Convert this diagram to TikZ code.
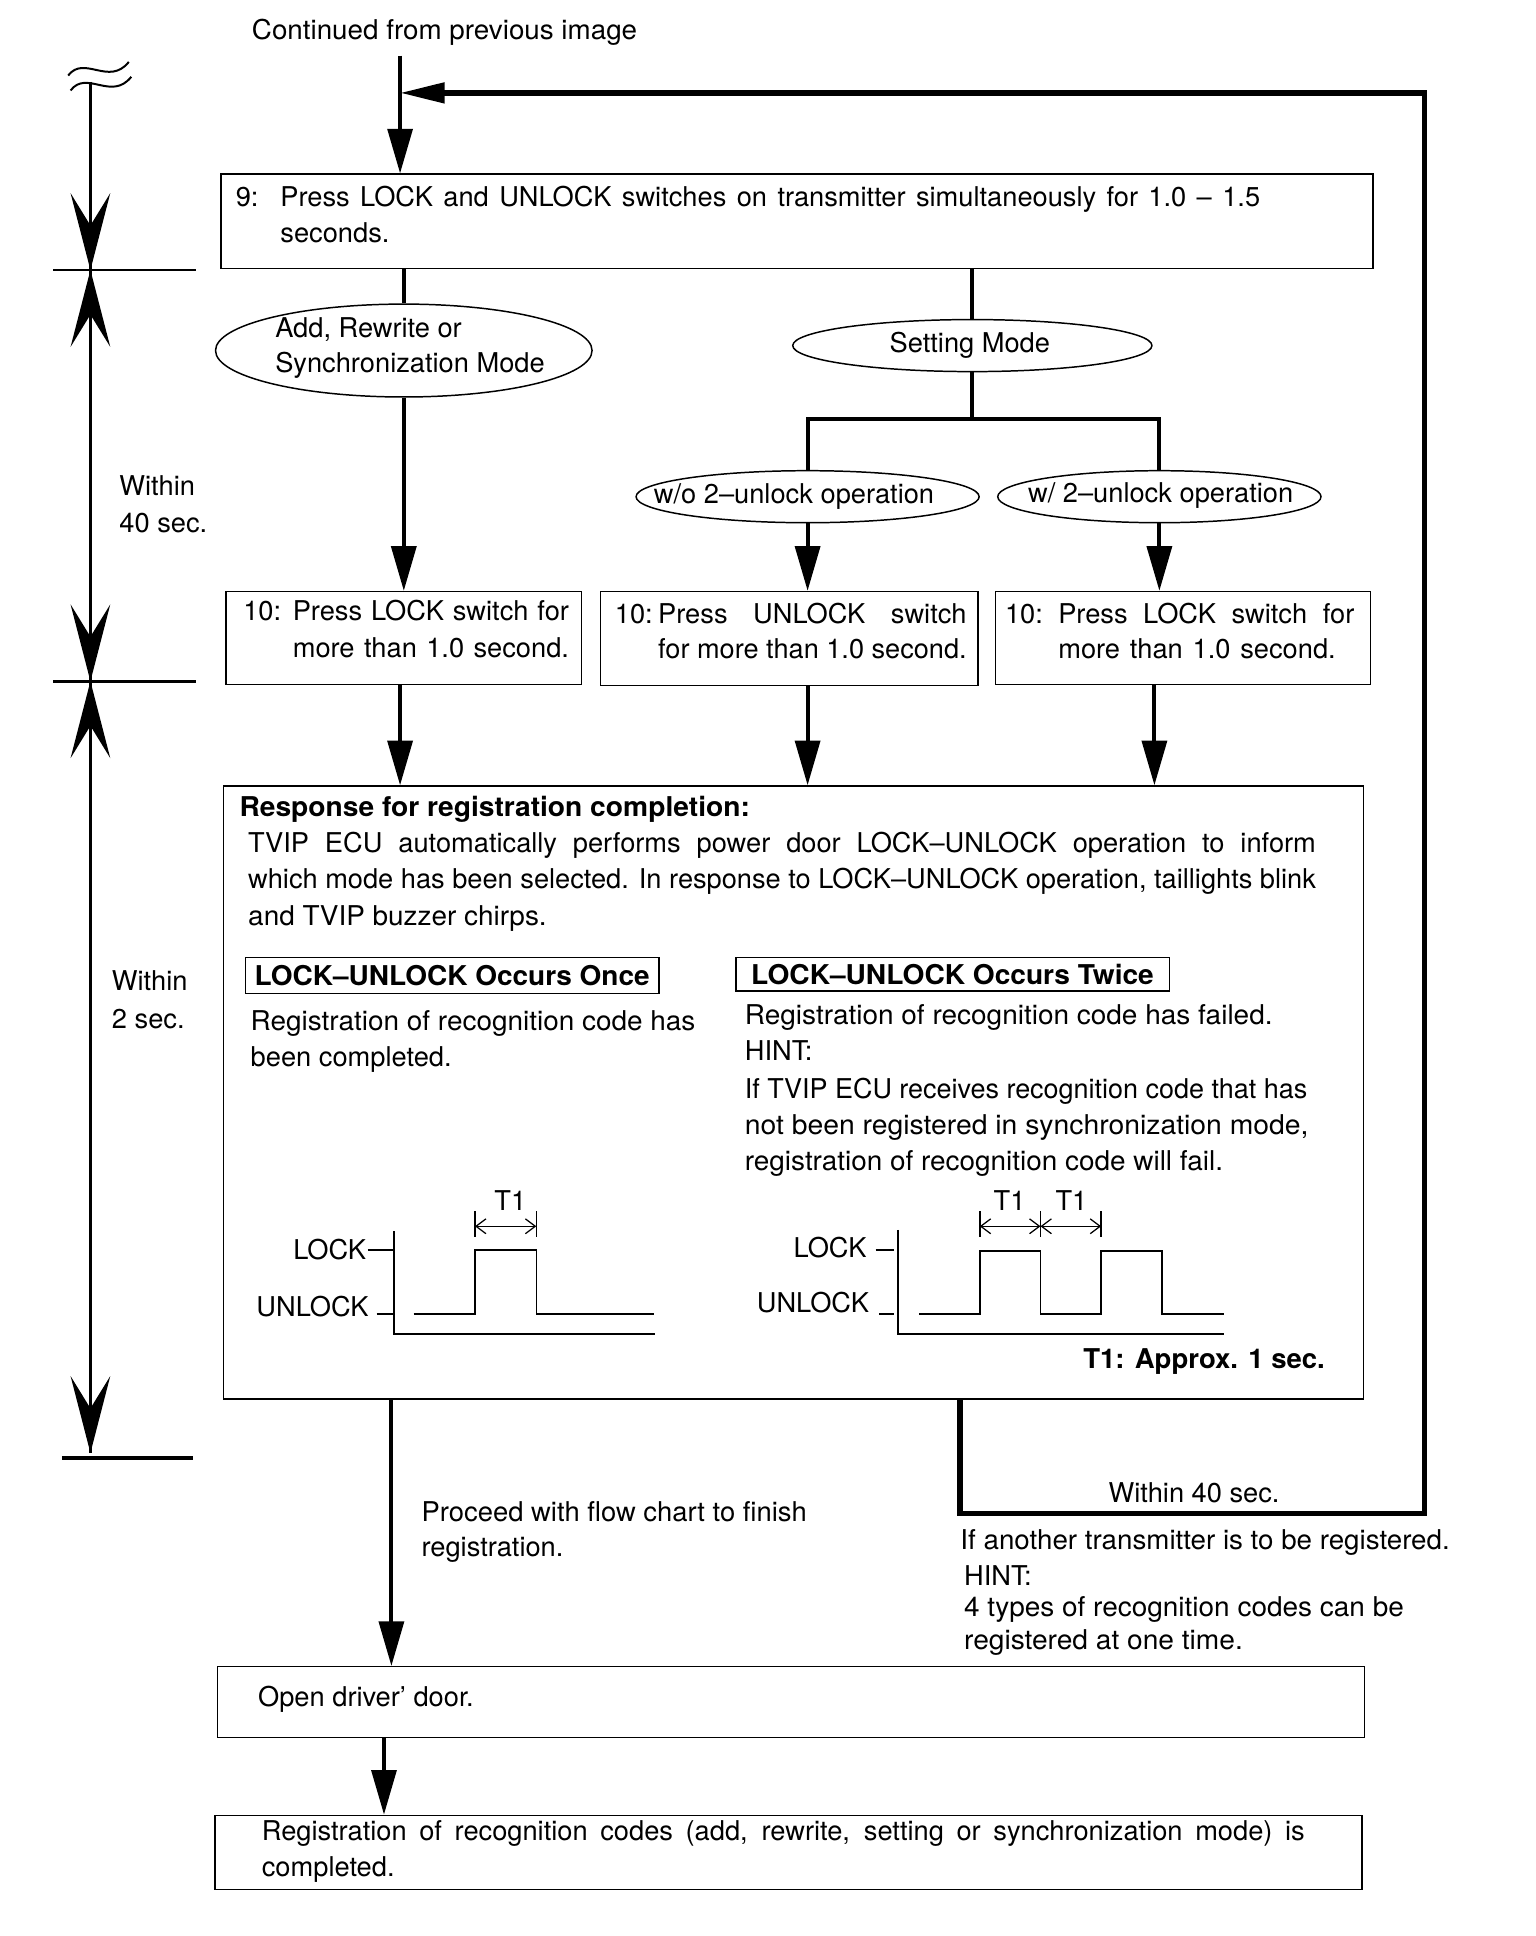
\documentclass[tikz,border=0pt]{standalone}
\usepackage{fontspec}
\setmainfont{TeX Gyre Heros}
\usepackage{graphicx}
\usetikzlibrary{arrows.meta,shapes.geometric,calc}
\newlength\fitw
\newcommand\sqz[2]{\settowidth\fitw{#2}\pgfmathsetmacro\fitr{#1/\the\fitw}\scalebox{\fitr}[1]{#2}}
\newcommand\jl[2]{\settowidth\fitw{#2}\ifdim\fitw>#1\relax\sqz{#1}{#2}\else\makebox[#1][s]{#2}\fi}
\begin{document}
\begin{tikzpicture}[x=0.5pt,y=-0.5pt,
  txt/.style={font=\fontsize{11}{14.5}\selectfont, inner sep=0pt, anchor=base west},
  txtr/.style={font=\fontsize{11}{14.5}\selectfont, inner sep=0pt, anchor=base east},
  txtb/.style={font=\fontsize{11}{14.5}\selectfont, inner sep=0pt, anchor=base},
  txtc/.style={font=\fontsize{11}{14.5}\selectfont, inner sep=0pt, anchor=center, align=left},
  boxn/.style={draw, line width=0.6pt, inner sep=0pt, anchor=north west},
  ell/.style={draw, ellipse, line width=0.6pt, inner sep=0pt},
  flow/.style={line width=1.6pt},
  loopl/.style={line width=2.2pt},
  arr/.style={-{Triangle[length=18pt,width=10pt]}},
  dimarr/.style={line width=1.1pt, -{Stealth[length=31pt,width=16pt,inset=13pt]}},
  thinl/.style={line width=0.6pt},
  tick/.style={line width=1.1pt},
  tarr/.style={line width=0.5pt, {Straight Barb[length=4pt,width=6pt]}-{Straight Barb[length=4pt,width=6pt]}}
]
\useasboundingbox (0,0) rectangle (1240,1563);

% ---------- top ----------
\node[txt] (cont) at (203,32) {\sqz{155.5pt}{Continued from previous image}};
\coordinate (topin) at (323,45);

% box 9
\node[boxn, minimum width=465pt, minimum height=38pt] (b9) at (178,140) {};
\node[txt] (b9n) at (190,167) {9:};
\node[txt] (b9a) at (226,167) {\jl{395.5pt}{Press LOCK and UNLOCK switches on transmitter simultaneously for 1.0 -- 1.5}};
\node[txt] (b9b) at (226,196) {seconds.};

% ellipses
\node[ell, minimum width=152pt, minimum height=37.5pt] (ea) at (326,283) {};
\node[txtc] (eat) at (331,281) {Add, Rewrite or\\Synchronization Mode};
\node[ell, minimum width=145pt, minimum height=21pt] (es) at (785,279) {};
\node[txtc] (est) at (783,279) {Setting Mode};
\node[ell, minimum width=138.5pt, minimum height=21pt] (ewo) at (652,401) {};
\node[txtc] (ewot) at (641,401) {w/o 2--unlock operation};
\node[ell, minimum width=130.5pt, minimum height=21pt] (ew) at (936,401) {};
\node[txtc] (ewt) at (937,400) {w/ 2--unlock operation};
\coordinate (br) at (785,338);

% boxes 10
\node[boxn, minimum width=143.5pt, minimum height=37.5pt] (ba) at (182,477) {};
\node[txt] (ban) at (196,501) {10:};
\node[txt] (ba1) at (236,501) {\jl{111.5pt}{Press LOCK switch for}};
\node[txt] (ba2) at (236,531) {\jl{111.5pt}{more than 1.0 second.}};

\node[boxn, minimum width=152.5pt, minimum height=38pt] (bb) at (484,477) {};
\node[txt] (bbn) at (496,503) {10:};
\node[txt] (bb1) at (531,503) {\jl{124.5pt}{Press UNLOCK switch}};
\node[txt] (bb2) at (531,532) {\jl{124.5pt}{for more than 1.0 second.}};

\node[boxn, minimum width=151.5pt, minimum height=37.5pt] (bc) at (803,477) {};
\node[txt] (bcn) at (811,503) {10:};
\node[txt] (bc1) at (854,503) {\jl{119.5pt}{Press LOCK switch for}};
\node[txt] (bc2) at (854,532) {\jl{112pt}{more than 1.0 second.}};

% response box
\node[boxn, minimum width=460pt, minimum height=247.5pt] (resp) at (180,634) {};
\node[txt] (rt) at (193,659) {\sqz{206pt}{\textbf{Response for registration completion:}}};
\node[txt] (rp1) at (200,688) {\jl{431pt}{TVIP ECU automatically performs power door LOCK--UNLOCK operation to inform}};
\node[txt] (rp2) at (200,717) {\jl{431pt}{which mode has been selected. In response to LOCK--UNLOCK operation, taillights blink}};
\node[txt] (rp3) at (200,747) {\sqz{120.5pt}{and TVIP buzzer chirps.}};

\node[draw, line width=0.6pt, inner sep=0pt, minimum width=167pt, minimum height=14.5pt,
      font=\fontsize{11}{14.5}\selectfont\bfseries] (once) at (365,787.5) {\sqz{159.5pt}{LOCK--UNLOCK Occurs Once}};
\node[draw, line width=0.6pt, inner sep=0pt, minimum width=175pt, minimum height=13.5pt,
      font=\fontsize{11}{14.5}\selectfont\bfseries] (twice) at (769,786.5) {\sqz{162.5pt}{LOCK--UNLOCK Occurs Twice}};

\node[txt] (lc1) at (202,832) {\sqz{179.5pt}{Registration of recognition code has}};
\node[txt] (lc2) at (202,861) {been completed.};

\node[txt] (rc1) at (601,827) {\sqz{213pt}{Registration of recognition code has failed.}};
\node[txt] (rc2) at (601,856) {HINT:};
\node[txt] (rc3) at (601,887) {\sqz{227pt}{If TVIP ECU receives recognition code that has}};
\node[txt] (rc4) at (601,916) {\sqz{227.5pt}{not been registered in synchronization mode,}};
\node[txt] (rc5) at (601,945) {\sqz{193pt}{registration of recognition code will fail.}};

% left waveform
\node[txtb] (t1a) at (412,977) {T1};
\node[txtr] (lockl) at (296,1017) {LOCK};
\node[txtr] (unlockl) at (298,1063) {UNLOCK};
\draw[thinl] (318,994) -- (318,1077) -- (529,1077);
\draw[thinl] (297,1009) -- (317,1009);
\draw[thinl] (304,1061) -- (317,1061);
\draw[thinl] (334,1061) -- (383.5,1061) -- (383.5,1009) -- (433,1009) -- (433,1061) -- (528,1061);
\draw[thinl] (383.5,978) -- (383.5,999);
\draw[thinl] (433,978) -- (433,999);
\draw[tarr] (383.5,990) -- (433,990);

% right waveform
\node[txtb] (t1b) at (815,977) {T1};
\node[txtb] (t1c) at (865,977) {T1};
\node[txtr] (lockr) at (700,1015) {LOCK};
\node[txtr] (unlockr) at (702,1060) {UNLOCK};
\draw[thinl] (725,993) -- (725,1077) -- (988,1077);
\draw[thinl] (707,1009) -- (722,1009);
\draw[thinl] (710,1061) -- (722,1061);
\draw[thinl] (742,1061) -- (791,1061) -- (791,1010) -- (840,1010) -- (840,1061) -- (889,1061) -- (889,1010) -- (938,1010) -- (938,1061) -- (988,1061);
\draw[thinl] (791,978) -- (791,999);
\draw[thinl] (840,978) -- (840,999);
\draw[thinl] (889,978) -- (889,999);
\draw[tarr] (791,990) -- (840,990);
\draw[tarr] (840,990) -- (889,990);
\node[txtr] (approx) at (1070,1105) {\sqz{97.5pt}{\textbf{T1: Approx. 1 sec.}}};

% bottom boxes
\node[boxn, minimum width=463pt, minimum height=28.5pt] (open) at (175,1345) {};
\node[txt] (opent) at (208,1378) {Open driver' door.};
\node[boxn, minimum width=463pt, minimum height=30pt] (fin) at (173,1465) {};
\node[txt] (fin1) at (211,1486) {\jl{421pt}{Registration of recognition codes (add, rewrite, setting or synchronization mode) is}};
\node[txt] (fin2) at (211,1515) {completed.};

% bottom texts
\node[txt] (pr1) at (340,1228) {\sqz{155.5pt}{Proceed with flow chart to finish}};
\node[txt] (pr2) at (340,1257) {registration.};
\node[txtb] (w40b) at (964,1213) {Within 40 sec.};
\node[txt] (an1) at (775,1251) {\sqz{197.5pt}{If another transmitter is to be registered.}};
\node[txt] (an2) at (778,1280) {HINT:};
\node[txt] (an3) at (778,1305) {\sqz{177.5pt}{4 types of recognition codes can be}};
\node[txt] (an4) at (778,1332) {\sqz{112.5pt}{registered at one time.}};

% left timing
\node[txt] (w40a) at (96,400) {Within};
\node[txt] (w40c) at (96,430) {40 sec.};
\node[txt] (w2a) at (90,800) {Within};
\node[txt] (w2c) at (90,830) {2 sec.};

% ---------- connectors ----------
\draw[flow, arr] (topin) -- (topin |- b9.north);
\coordinate (jn) at (323,75);
\draw[flow] (b9.south -| ea.north) -- (ea.north);
\draw[flow] (es.north |- b9.south) -- (es.north);
\draw[flow, arr] (ea.south) -- (ea.south |- ba.north);
\draw[flow] (es.south) -- (br);
\draw[flow] (ewo.north) -- (ewo.north |- br) -- (ew.north |- br) -- (ew.north);
\draw[flow, arr] (ewo.south) -- (ewo.south |- bb.north);
\draw[flow, arr] (ew.south) -- (ew.south |- bc.north);
\draw[flow, arr] (ba.south -| 323,0) -- (resp.north -| 323,0);
\draw[flow, arr] (bb.south -| 652,0) -- (resp.north -| 652,0);
\draw[flow, arr] (bc.south -| 932,0) -- (resp.north -| 932,0);
\draw[flow, arr] (resp.south -| 316,0) -- (open.north -| 316,0);
\draw[flow, arr] (open.south -| 310,0) -- (fin.north -| 310,0);
\draw[loopl, -{Triangle[length=18pt,width=8pt]}] (resp.south -| 775,0) -- (775,1222) -- (1150,1222) -- (1150,75) -- (jn);

% ---------- left dimension ----------
\coordinate (dtop) at (73,66);
\coordinate (dA) at (73,218);
\coordinate (dB) at (73,550);
\coordinate (dC) at (73,1173);
\draw[line width=1.1pt] (dtop) -- (dC);
\draw[line width=0.8pt] (55,61) .. controls (68,44) and (88,70) .. (104,50);
\draw[line width=0.8pt] (57,73) .. controls (70,56) and (90,82) .. (106,62);
\draw[tick] (43,218) -- (158,218);
\draw[tick] (43,550) -- (158,550);
\draw[line width=1.4pt] (50,1177) -- (156,1177);
\draw[dimarr] (73,150) -- (dA);
\draw[dimarr] (73,286) -- (dA);
\draw[dimarr] (73,482) -- (dB);
\draw[dimarr] (73,618) -- (dB);
\draw[dimarr] (73,1105) -- (dC);
\end{tikzpicture}
\end{document}
